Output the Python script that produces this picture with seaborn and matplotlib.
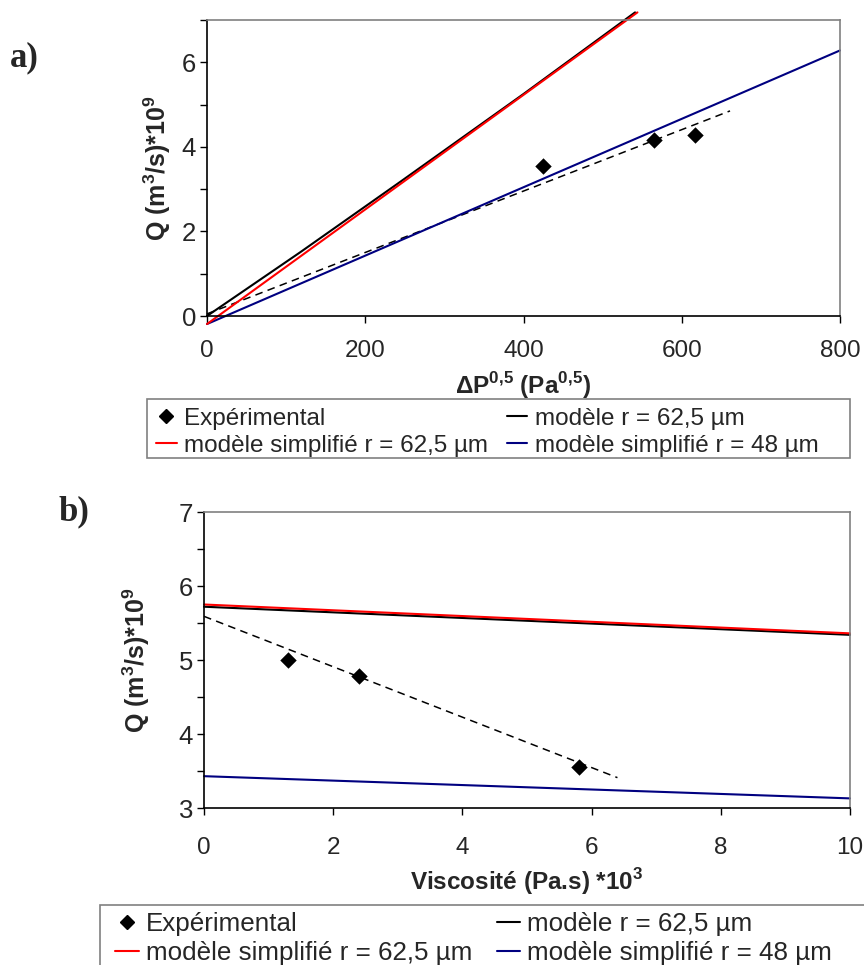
import numpy as np
import matplotlib
matplotlib.use("Agg")
import matplotlib.pyplot as plt
import seaborn as sns
from matplotlib.lines import Line2D
from matplotlib.patches import Rectangle
from matplotlib.ticker import MultipleLocator

# --- données panneau a) : Q en fonction de dP^0.5 ---
dp_exp = [425, 565, 617]
q_exp_a = [3.55, 4.16, 4.28]

dp_modele = [0, 118, 244, 400, 541]
q_modele_a = [0.0, 1.51, 3.17, 5.25, 7.18]

dp_simpl = [0, 544]
q_simpl_62_a = [-0.19, 7.18]

dp_simpl48 = [0, 800]
q_simpl_48_a = [-0.19, 6.28]

dp_tendance = [0, 661]
q_tendance_a = [0.05, 4.85]

# --- données panneau b) : Q en fonction de la viscosité ---
visc_exp = [1.3, 2.4, 5.8]
q_exp_b = [5.0, 4.78, 3.55]

visc_modele = [0, 10]
q_modele_b = [5.72, 5.34]
q_simpl_62_b = [5.75, 5.36]
q_simpl_48_b = [3.43, 3.13]

visc_tendance = [0, 6.4]
q_tendance_b = [5.59, 3.41]

labels = ["Expérimental", "modèle simplifié r = 62,5 µm",
          "modèle r = 62,5 µm", "modèle simplifié r = 48 µm"]

RED = "#FF0000"
NAVY = "#000080"

sns.set_theme(style="white")
plt.rcParams['font.family'] = ['Liberation Sans', 'DejaVu Sans']
plt.rcParams['mathtext.fontset'] = 'custom'
plt.rcParams['mathtext.rm'] = 'Liberation Sans'
plt.rcParams['mathtext.bf'] = 'Liberation Sans:bold'

fig = plt.figure(figsize=(8.64, 9.65), dpi=100)
W, H = 864, 965


def axes_px(x0, x1, y0, y1):
    return fig.add_axes([x0 / W, 1 - y1 / H, (x1 - x0) / W, (y1 - y0) / H])


def style_axes(ax):
    for side in ["left", "bottom"]:
        ax.spines[side].set_color("black")
        ax.spines[side].set_linewidth(1.2)
    for side in ["top", "right"]:
        ax.spines[side].set_color("#808080")
        ax.spines[side].set_linewidth(1.2)
    ax.tick_params(axis="both", which="both", direction="out", length=5,
                   width=1, color="black", left=True, bottom=True)
    ax.tick_params(axis="y", labelsize=18.5, pad=3)
    ax.tick_params(axis="x", labelsize=17.5)
    ax.grid(False)


def draw_panel(ax, x_exp, y_exp, x_mod, y_mod, x_s62, y_s62, x_s48, y_s48, x_tr, y_tr):
    sns.lineplot(x=x_tr, y=y_tr, ax=ax, color="black", lw=1.1,
                 linestyle=(0, (5, 3.5)), clip_on=False, sort=False)
    sns.lineplot(x=x_s48, y=y_s48, ax=ax, color=NAVY, lw=1.5, clip_on=False, sort=False)
    sns.lineplot(x=x_mod, y=y_mod, ax=ax, color="black", lw=1.5, clip_on=False, sort=False)
    sns.lineplot(x=x_s62, y=y_s62, ax=ax, color=RED, lw=1.5, clip_on=False, sort=False)
    sns.scatterplot(x=x_exp, y=y_exp, ax=ax, marker="D", s=70, color="black",
                    edgecolor="black", linewidth=0, zorder=5, clip_on=False)


def legend_handles():
    return [
        Line2D([], [], marker="D", color="black", linestyle="none", markersize=7.5),
        Line2D([], [], color=RED, lw=1.5),
        Line2D([], [], color="black", lw=1.5),
        Line2D([], [], color=NAVY, lw=1.5),
    ]


# ---------------- panneau a ----------------
ax1 = axes_px(207, 840, 20, 316)
draw_panel(ax1, dp_exp, q_exp_a, dp_modele, q_modele_a, dp_simpl, q_simpl_62_a,
           dp_simpl48, q_simpl_48_a, dp_tendance, q_tendance_a)
ax1.set_xlim(0, 800)
ax1.set_ylim(0, 7)
ax1.xaxis.set_major_locator(MultipleLocator(200))
ax1.yaxis.set_major_locator(MultipleLocator(2))
ax1.yaxis.set_minor_locator(MultipleLocator(1))
style_axes(ax1)
ax1.tick_params(axis="x", pad=12)
ax1.set_xlabel(r"ΔP$^{\mathbf{0{,}5}}$ (Pa$^{\mathbf{0{,}5}}$)", fontsize=17.5,
               fontweight="bold", labelpad=6)
ax1.set_ylabel(r"Q (m$^{\mathbf{3}}$/s)*10$^{\mathbf{9}}$", fontsize=18,
               fontweight="bold", labelpad=6)

fig.legend(legend_handles(), labels, ncol=2, loc="upper left",
           bbox_to_anchor=(151 / W, 1 - 403 / H), frameon=False,
           fontsize=17.5, handlelength=0.85, handletextpad=0.3,
           columnspacing=0.78, labelspacing=0.2, borderpad=0.2,
           borderaxespad=0)
fig.add_artist(Rectangle((147 / W, 1 - 458 / H), (850 - 147) / W, 59 / H,
                         transform=fig.transFigure, fill=False,
                         edgecolor="#808080", lw=1.2))

# ---------------- panneau b ----------------
ax2 = axes_px(204, 850, 512, 808)
draw_panel(ax2, visc_exp, q_exp_b, visc_modele, q_modele_b, visc_modele, q_simpl_62_b,
           visc_modele, q_simpl_48_b, visc_tendance, q_tendance_b)
ax2.set_xlim(0, 10)
ax2.set_ylim(3, 7)
ax2.xaxis.set_major_locator(MultipleLocator(2))
ax2.yaxis.set_major_locator(MultipleLocator(1))
ax2.yaxis.set_minor_locator(MultipleLocator(0.5))
style_axes(ax2)
ax2.tick_params(axis="x", pad=16)
ax2.set_xlabel(r"Viscosité (Pa.s) *10$^{\mathbf{3}}$", fontsize=17.5,
               fontweight="bold", labelpad=5)
ax2.set_ylabel(r"Q (m$^{\mathbf{3}}$/s)*10$^{\mathbf{9}}$", fontsize=18,
               fontweight="bold", labelpad=19)

fig.legend(legend_handles(), labels, ncol=2, loc="upper left",
           bbox_to_anchor=(110 / W, 1 - 907 / H), frameon=False,
           fontsize=18.7, handlelength=0.9, handletextpad=0.27,
           columnspacing=0.96, labelspacing=0.2, borderpad=0.2,
           borderaxespad=0)
fig.add_artist(Rectangle((100 / W, -0.05), 1.0, (965 - 905) / H + 0.05,
                         transform=fig.transFigure, fill=False,
                         edgecolor="#808080", lw=1.2, clip_on=False))

# étiquettes a) et b)
fig.text(10 / W, 1 - 58 / H, "a)", family="Liberation Serif", fontweight="bold",
         fontsize=25, va="center", ha="left")
fig.text(58 / W, 1 - 512 / H, "b)", family="Liberation Serif", fontweight="bold",
         fontsize=25, va="center", ha="left")

fig.savefig("out.png", dpi=100)
